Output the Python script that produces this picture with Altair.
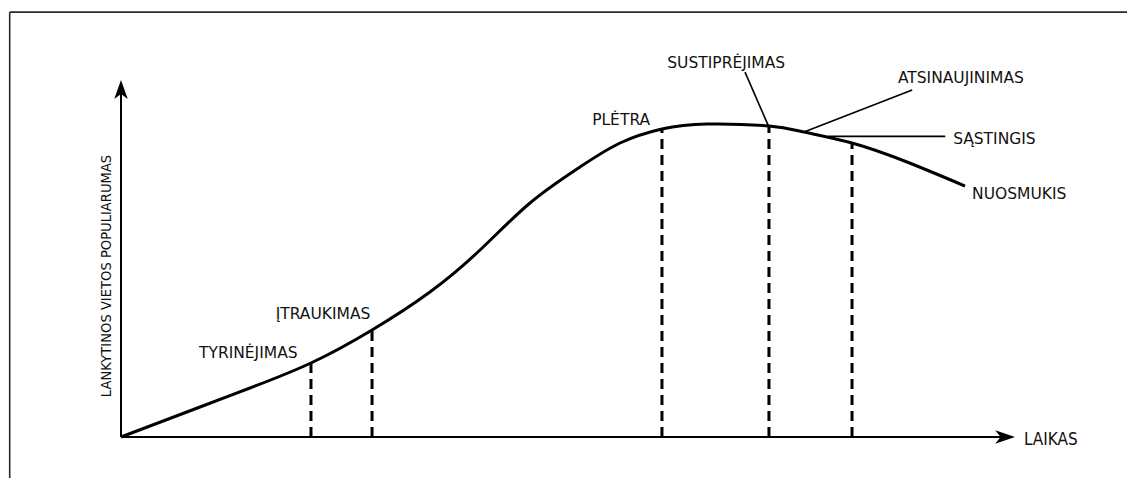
import altair as alt
import pandas as pd

# Life-cycle curve (time 0..100 along x axis, popularity 0..100)
curve_time = [0, 8.84, 14.43, 21.25, 28.08, 34.56, 40.16, 45.75, 51.34, 55.82, 60.51,
              65.55, 72.48, 76.40, 81.77, 87.92, 94.41]
curve_pop = [0, 8.40, 13.73, 20.73, 29.97, 40.62, 52.38, 65.55, 75.63, 82.35, 86.27,
             87.68, 87.11, 85.43, 82.35, 77.03, 70.30]

# Stage boundaries (dashed verticals)
stage_time = [21.25, 28.08, 60.51, 72.48, 81.77]
stage_pop = [20.73, 29.97, 86.27, 87.11, 82.35]

# Stage labels
label_text = ["TYRINĖJIMAS", "ĮTRAUKIMAS", "PLĖTRA", "SUSTIPRĖJIMAS",
              "ATSINAUJINIMAS", "SĄSTINGIS", "NUOSMUKIS"]
label_time = [8.72, 17.3, 52.7, 61.1, 86.9, 93.1, 95.2]
label_pop = [23.5, 34.5, 88.8, 104.8, 100.6, 83.4, 68.0]

# Leader lines (label -> curve)
leader_t1 = [69.8, 88.5, 79.1]
leader_p1 = [102.2, 97.2, 84.2]
leader_t2 = [72.48, 76.40, 92.2]
leader_p2 = [86.8, 85.43, 84.2]

# Axis titles
x_title = "LAIKAS"
y_title = "LANKYTINOS VIETOS POPULIARUMAS"

# Frame extents (same units)
frame_left, frame_right, frame_top, frame_bottom = -12.45, 113.0, 119.0, -12.0

SX = alt.Scale(domain=[0, 100], nice=False, zero=False)
SY = alt.Scale(domain=[0, 100], nice=False, zero=False)


def X(f):
    return alt.X(f, type="quantitative", scale=SX, axis=None)


def Y(f):
    return alt.Y(f, type="quantitative", scale=SY, axis=None)


curve_df = pd.DataFrame({"t": curve_time, "p": curve_pop})
stage_df = pd.DataFrame({"t": stage_time, "p": stage_pop, "p0": [0] * len(stage_time)})
label_df = pd.DataFrame({"t": label_time, "p": label_pop, "txt": label_text})
leader_df = pd.DataFrame({"t": leader_t1, "p": leader_p1, "t2": leader_t2, "p2": leader_p2})
axes_df = pd.DataFrame({"t": [0, 0], "p": [0, 0], "t2": [99.2, 0], "p2": [0, 97.0]})
arrow_up_df = pd.DataFrame({"t": [0], "p": [100]})
arrow_right_df = pd.DataFrame({"t": [100], "p": [0]})
frame_df = pd.DataFrame({"t": [frame_left, frame_left], "p": [frame_top, frame_top],
                         "t2": [frame_right, frame_left], "p2": [frame_top, frame_bottom]})
xt_df = pd.DataFrame({"t": [101.0], "p": [-0.8], "txt": [x_title]})
yt_df = pd.DataFrame({"t": [-1.6], "p": [45.1], "txt": [y_title]})

LABEL_FONT = "DejaVu Sans"
NARROW_FONT = "Liberation Sans Narrow, DejaVu Sans Condensed, Arial Narrow, sans-serif"

frame = alt.Chart(frame_df).mark_rule(color="#2a2a2a", strokeWidth=1.6, clip=False).encode(
    x=X("t"), y=Y("p"), x2="t2", y2="p2")

axes = alt.Chart(axes_df).mark_rule(color="black", strokeWidth=2, clip=False).encode(
    x=X("t"), y=Y("p"), x2="t2", y2="p2")

arrow_up = alt.Chart(arrow_up_df).mark_point(
    shape="M0,0 L0.75,2.1 L0,1.55 L-0.75,2.1 Z", size=324, filled=True,
    color="black", opacity=1, clip=False).encode(x=X("t"), y=Y("p"))

arrow_right = alt.Chart(arrow_right_df).mark_point(
    shape="M0,0 L-2.2,0.75 L-1.6,0 L-2.2,-0.75 Z", size=324, filled=True,
    color="black", opacity=1, clip=False).encode(x=X("t"), y=Y("p"))

stages = alt.Chart(stage_df).mark_rule(color="black", strokeWidth=3, strokeDash=[10, 6],
                                       clip=False).encode(x=X("t"), y=Y("p0"), y2="p")

curve = alt.Chart(curve_df).mark_line(color="black", strokeWidth=3, interpolate="natural",
                                      clip=False).encode(x=X("t"), y=Y("p"))

leaders = alt.Chart(leader_df).mark_rule(color="black", strokeWidth=1.6, clip=False).encode(
    x=X("t"), y=Y("p"), x2="t2", y2="p2")

labels = alt.Chart(label_df).mark_text(align="left", baseline="middle", font=LABEL_FONT,
                                       fontSize=15.5, color="#111", clip=False).encode(
    x=X("t"), y=Y("p"), text="txt:N")

xt = alt.Chart(xt_df).mark_text(align="left", baseline="middle", font=NARROW_FONT,
                                fontSize=17, color="#111", clip=False).encode(
    x=X("t"), y=Y("p"), text="txt:N")

yt = alt.Chart(yt_df).mark_text(align="center", baseline="middle", font=NARROW_FONT,
                                fontSize=14.6, angle=270, color="#111", clip=False).encode(
    x=X("t"), y=Y("p"), text="txt:N")

chart = alt.layer(frame, axes, stages, curve, leaders, arrow_up, arrow_right,
                  labels, xt, yt).properties(
    width=894, height=357, autosize="none",
    padding={"left": 113, "top": 72, "right": 112, "bottom": 41},
    background="white",
).configure_view(stroke=None)

chart.save("out.html", embed_options={"renderer": "svg", "actions": False})
